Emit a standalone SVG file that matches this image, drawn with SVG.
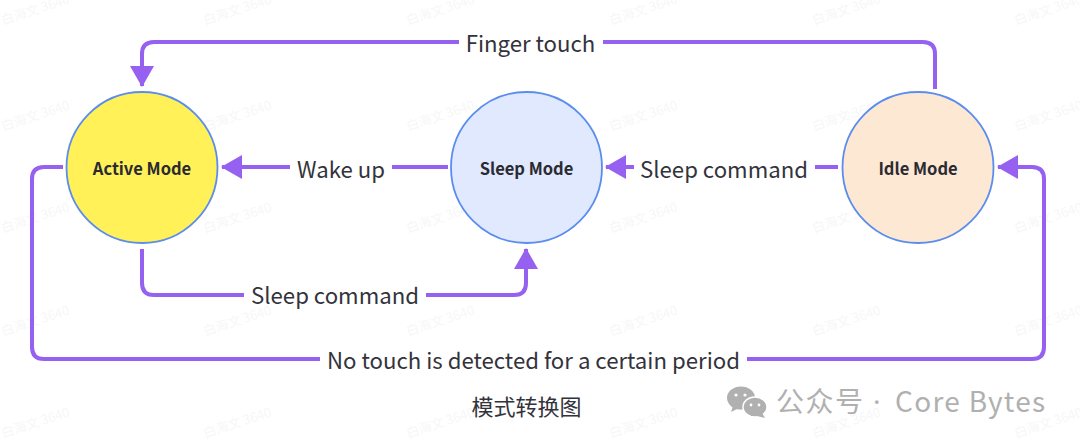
<svg xmlns="http://www.w3.org/2000/svg" width="1080" height="445" viewBox="0 0 1080 445">
<defs>
<marker id="ah" markerUnits="userSpaceOnUse" markerWidth="24" markerHeight="24" refX="20" refY="12" orient="auto"><path d="M0 0L21 12L0 24Z" fill="#9661f0"/></marker>
<text id="wm" class="wm" transform="rotate(-18)">白海文 3640</text>
</defs>
<style>
.wm{font:13px "Noto Sans CJK SC","Noto Sans",sans-serif;fill:#f7f7f7}
.c{fill:none;stroke:#9661f0;stroke-width:4}
.n{stroke:#5b8def;stroke-width:1.800}
.nt{font:700 16.500px "Noto Sans CJK SC","Noto Sans",sans-serif;fill:#2a2a33;text-anchor:middle}
.l{font:22.200px "Noto Sans CJK SC","Noto Sans",sans-serif;fill:#33333b;text-anchor:middle}
.cr{font:28px "Noto Sans CJK SC",sans-serif;fill:#b0b0b0}
</style>
<rect width="1080" height="445" fill="#fff"/>
<g id="watermarks">
<use href="#wm" x="3" y="25"/><use href="#wm" x="205" y="25"/><use href="#wm" x="408" y="25"/><use href="#wm" x="611" y="25"/><use href="#wm" x="814" y="25"/><use href="#wm" x="1016" y="25"/>
<use href="#wm" x="3" y="131"/><use href="#wm" x="205" y="131"/><use href="#wm" x="408" y="131"/><use href="#wm" x="611" y="131"/><use href="#wm" x="814" y="131"/><use href="#wm" x="1016" y="131"/>
<use href="#wm" x="3" y="233"/><use href="#wm" x="205" y="233"/><use href="#wm" x="408" y="233"/><use href="#wm" x="611" y="233"/><use href="#wm" x="814" y="233"/><use href="#wm" x="1016" y="233"/>
<use href="#wm" x="3" y="336"/><use href="#wm" x="205" y="336"/><use href="#wm" x="408" y="336"/><use href="#wm" x="611" y="336"/><use href="#wm" x="814" y="336"/><use href="#wm" x="1016" y="336"/>
<use href="#wm" x="3" y="438"/><use href="#wm" x="205" y="438"/><use href="#wm" x="408" y="438"/><use href="#wm" x="611" y="438"/><use href="#wm" x="814" y="438"/><use href="#wm" x="1016" y="438"/>
</g>
<g id="connectors">
<path class="c" marker-end="url(#ah)" d="M459 42H154Q142 42 142 54V86"/>
<path class="c" d="M603 42H923Q935 42 935 54V89"/>
<path class="c" marker-end="url(#ah)" d="M290 167H222"/>
<path class="c" d="M392 167H448"/>
<path class="c" marker-end="url(#ah)" d="M634 167H606"/>
<path class="c" d="M815 167H838"/>
<path class="c" d="M142 249V283Q142 295 154 295H244"/>
<path class="c" marker-end="url(#ah)" d="M426 295H514Q526 295 526 283V249"/>
<path class="c" d="M63 167H44Q32 167 32 179V347Q32 359 44 359H320"/>
<path class="c" marker-end="url(#ah)" d="M747 359H1032Q1044 359 1044 347V179Q1044 167 1032 167H998"/>
</g>
<g id="active"><circle class="n" cx="142" cy="167.500" r="75.500" fill="#fff157"/><text class="nt" x="142" y="175">Active Mode</text></g>
<g id="sleep"><circle class="n" cx="526.500" cy="167.500" r="75.500" fill="#e0e9fd"/><text class="nt" x="526.500" y="175">Sleep Mode</text></g>
<g id="idle"><circle class="n" cx="918" cy="167.500" r="75.500" fill="#fde8d3"/><text class="nt" x="918" y="175">Idle Mode</text></g>
<g id="labels">
<text class="l" x="530.500" y="51.500">Finger touch</text>
<text class="l" x="341" y="177.500">Wake up</text>
<text class="l" x="724" y="177.500">Sleep command</text>
<text class="l" x="335" y="304">Sleep command</text>
<text class="l" x="533.500" y="369">No touch is detected for a certain period</text>
<text x="526.500" y="415" style="font:22px 'Noto Sans CJK SC',sans-serif;fill:#33333b;text-anchor:middle">模式转换图</text>
</g>
<g id="credit">
<ellipse cx="741" cy="398" rx="14" ry="11.500" fill="#b0b0b0"/><path d="M733 406l-2 6 8-4z" fill="#b0b0b0"/>
<ellipse cx="755" cy="407" rx="12" ry="10" fill="#b0b0b0" stroke="#fff" stroke-width="1.500"/><path d="M762 413l3 5-8-2z" fill="#b0b0b0"/>
<circle cx="736" cy="395" r="1.600" fill="#fff"/><circle cx="745" cy="395" r="1.600" fill="#fff"/><circle cx="751" cy="405" r="1.400" fill="#fff"/><circle cx="759" cy="405" r="1.400" fill="#fff"/>
<text class="cr" x="776" y="412" letter-spacing="1.500">公众号</text>
<text class="cr" x="873" y="412" style="font-family:'Noto Sans',sans-serif">·</text>
<text class="cr" x="895" y="412" letter-spacing="1.300">Core Bytes</text>
</g>
</svg>
